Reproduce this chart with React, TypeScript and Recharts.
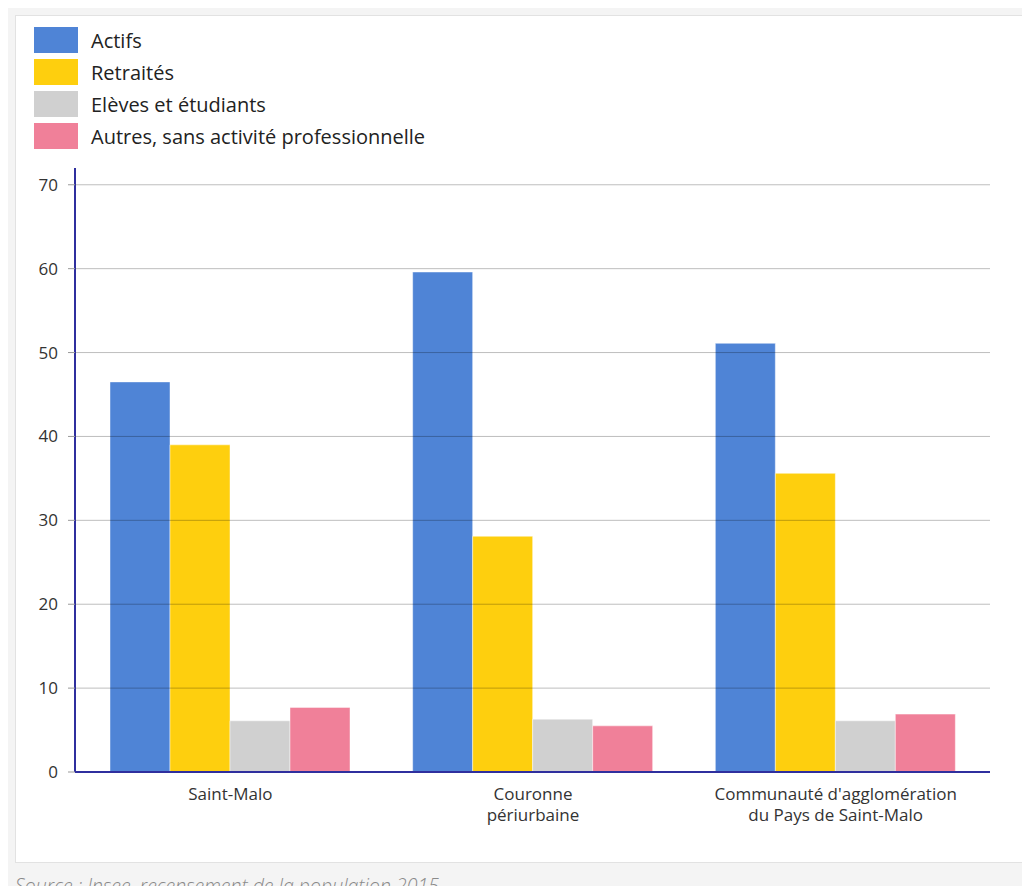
import React from 'react';
import { BarChart, Bar, XAxis, YAxis, ReferenceLine } from 'recharts';

const categories = ['Saint-Malo', 'Couronne\npériurbaine', "Communauté d'agglomération\ndu Pays de Saint-Malo"];
const actifs = [46.5, 59.6, 51.1];
const retraites = [39.0, 28.1, 35.6];
const eleves = [6.1, 6.3, 6.1];
const autres = [7.7, 5.5, 6.9];
const yTicks = [0, 10, 20, 30, 40, 50, 60, 70];

const series = [
  { key: 'actifs', name: 'Actifs', color: '#4f84d6', values: actifs },
  { key: 'retraites', name: 'Retraités', color: '#fecf0e', values: retraites },
  { key: 'eleves', name: 'Elèves et étudiants', color: '#d0d0d0', values: eleves },
  { key: 'autres', name: 'Autres, sans activité professionnelle', color: '#f08099', values: autres },
];

const chartData = categories.map((name, i) => {
  const row: Record<string, any> = { name };
  series.forEach((s) => {
    row[s.key] = s.values[i];
  });
  return row;
});

const FONT = '"Open Sans", "DejaVu Sans", sans-serif';

// Multi-line category label
const CategoryTick = ({ x, y, payload }: any) => {
  const lines = String(payload.value).split('\n');
  return (
    <text x={x} y={y} textAnchor="middle" fill="#333" fontSize={17} fontFamily={FONT}>
      {lines.map((line, i) => (
        <tspan key={i} x={x} dy={i === 0 ? 26 : 21}>
          {line}
        </tspan>
      ))}
    </text>
  );
};

export default function App() {
  return (
    <div
      style={{
        position: 'relative',
        width: 1030,
        height: 894,
        margin: -8,
        background: '#f4f4f4',
        overflow: 'hidden',
        fontFamily: FONT,
      }}
    >
      <div
        style={{
          position: 'absolute',
          left: 15,
          top: 15,
          width: 1040,
          height: 846,
          background: '#fff',
          border: '1px solid #e2e2e2',
        }}
      />

      {/* legend */}
      <div style={{ position: 'absolute', left: 34, top: 24 }}>
        {series.map((s) => (
          <div key={s.key} style={{ display: 'flex', alignItems: 'center', height: 32 }}>
            <div style={{ width: 44, height: 26, background: s.color, marginRight: 13 }} />
            <span style={{ fontSize: 20, color: '#222' }}>{s.name}</span>
          </div>
        ))}
      </div>

      <div style={{ position: 'absolute', left: 0, top: 0 }}>
        <BarChart
          width={1030}
          height={894}
          data={chartData}
          margin={{ top: 168, right: 40, left: 0, bottom: 62 }}
          barCategoryGap={31}
          barGap={0}
        >
          <XAxis
            dataKey="name"
            height={60}
            interval={0}
            tickLine={false}
            tickSize={0}
            axisLine={{ stroke: '#2f2f9e', strokeWidth: 2 }}
            padding={{ left: 4, right: 3 }}
            tick={<CategoryTick />}
          />
          <YAxis
            width={75}
            domain={[0, 72]}
            ticks={yTicks}
            interval={0}
            tickSize={7}
            tickMargin={10}
            tickLine={{ stroke: '#999' }}
            axisLine={{ stroke: '#2f2f9e', strokeWidth: 2 }}
            tick={{ fill: '#333', fontSize: 17, fontFamily: FONT }}
          />
          {series.map((s) => (
            <Bar
              key={s.key}
              dataKey={s.key}
              name={s.name}
              fill={s.color}
              stroke="#ffffff"
              strokeOpacity={0.45}
              strokeWidth={1}
              isAnimationActive={false}
            />
          ))}
          {yTicks.slice(1).map((t) => (
            <ReferenceLine key={t} y={t} stroke="rgba(0,0,0,0.26)" strokeWidth={1} />
          ))}
        </BarChart>
      </div>

      <div
        style={{
          position: 'absolute',
          left: 15,
          top: 872,
          fontSize: 19.5,
          fontStyle: 'italic',
          fontWeight: 300,
          color: '#8a8a8a',
          whiteSpace: 'nowrap',
        }}
      >
        Source : Insee, recensement de la population 2015
      </div>
    </div>
  );
}
